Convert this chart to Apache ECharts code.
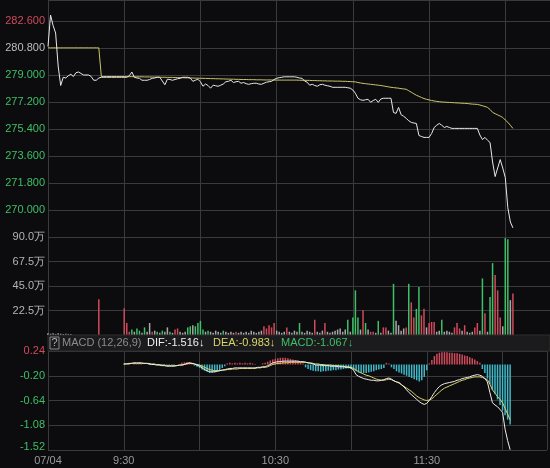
<!DOCTYPE html>
<html>
<head>
<meta charset="utf-8">
<script src="https://cdn.jsdelivr.net/npm/echarts@6/dist/echarts.min.js"></script>
<style>
html,body{margin:0;padding:0;background:#0c0c0e;}
#c{width:550px;height:468px;}
</style>
</head>
<body>
<div id="c"></div>
<script>
// ---- data (one value per minute, index 0 = 09:00) ----
const timeTicks = {0:'07/04', 30:'9:30', 90:'10:30', 150:'11:30'};
const priceTicks = [282.6, 280.8, 279.0, 277.2, 275.4, 273.6, 271.8, 270.0];
const volTicks = [90, 67.5, 45, 22.5];
const macdTicks = [0.24, -0.20, -0.64, -1.08, -1.52];

const price = [
280.90,283.00,282.30,281.80,279.60,278.30,278.85,278.80,278.95,279.05,
278.90,279.15,279.20,279.10,279.00,279.00,279.00,278.90,278.65,278.65,
278.80,278.85,278.85,278.85,278.85,278.85,278.85,278.85,278.85,278.85,
278.85,278.85,278.95,279.20,278.85,278.80,278.78,278.65,278.65,278.65,
278.70,278.78,278.80,278.85,278.85,278.60,278.35,278.72,278.70,278.65,
278.70,278.75,278.78,278.85,278.85,278.85,278.80,278.58,278.65,278.72,
278.55,278.25,278.40,278.30,278.12,278.32,278.28,278.25,278.32,278.40,
278.55,278.58,278.65,278.50,278.55,278.58,278.45,278.50,278.42,278.38,
278.42,278.45,278.45,278.40,278.38,278.45,278.52,278.55,278.58,278.70,
278.78,278.82,278.85,278.88,278.88,278.88,278.88,278.88,278.85,278.80,
278.78,278.60,278.52,278.32,278.38,278.30,278.25,278.35,278.38,278.32,
278.28,278.25,278.18,278.18,278.18,278.18,278.18,278.18,278.15,278.12,
278.00,277.78,277.45,277.35,277.31,277.35,277.38,277.18,277.30,277.38,
277.18,277.40,277.45,277.45,277.45,277.45,276.50,276.44,276.84,276.35,
276.25,276.11,275.95,275.84,275.80,275.77,274.97,274.90,274.84,274.84,
274.84,275.10,275.50,275.65,275.77,275.65,275.50,275.57,275.50,275.44,
275.44,275.44,275.44,275.44,275.44,275.44,275.44,275.44,275.44,275.44,
275.00,274.70,274.84,274.65,274.50,273.20,272.23,272.80,273.36,272.80,
272.16,270.15,269.20,268.81
];

const avgPrice = [
280.81,280.81,280.81,280.81,280.81,280.81,280.81,280.81,280.81,280.81,
280.81,280.81,280.81,280.81,280.81,280.81,280.81,280.81,280.81,280.81,
280.81,278.90,278.90,278.90,278.90,278.90,278.90,278.90,278.90,278.90,
278.90,278.89,278.89,278.89,278.88,278.88,278.88,278.88,278.87,278.87,
278.87,278.86,278.86,278.86,278.85,278.85,278.85,278.84,278.84,278.84,
278.83,278.83,278.82,278.82,278.81,278.81,278.80,278.80,278.79,278.79,
278.78,278.78,278.77,278.77,278.76,278.76,278.75,278.75,278.74,278.74,
278.73,278.73,278.72,278.72,278.71,278.71,278.70,278.70,278.70,278.69,
278.69,278.69,278.68,278.68,278.68,278.67,278.67,278.67,278.67,278.66,
278.66,278.66,278.66,278.66,278.66,278.66,278.66,278.66,278.66,278.65,
278.65,278.65,278.64,278.64,278.63,278.63,278.62,278.62,278.61,278.61,
278.60,278.60,278.60,278.59,278.59,278.59,278.58,278.58,278.57,278.56,
278.55,278.54,278.50,278.47,278.44,278.42,278.40,278.38,278.36,278.34,
278.32,278.30,278.27,278.24,278.21,278.18,278.16,278.14,278.12,278.09,
278.07,278.05,277.95,277.85,277.75,277.65,277.58,277.50,277.43,277.38,
277.34,277.30,277.27,277.24,277.22,277.20,277.19,277.18,277.17,277.16,
277.15,277.14,277.13,277.12,277.11,277.10,277.08,277.06,277.05,277.04,
277.00,276.95,276.90,276.84,276.70,276.51,276.42,276.34,276.26,276.17,
276.00,275.85,275.65,275.44
];

// volume in 万
const volume = [
1.5,1.2,1.5,1.0,1.5,1.2,1.0,1.2,1.0,1.0,
0,0,0,0,0,0,0,0,0,0,
32.8,0,0,0,0,0,0,0,0,0,
24.6,11,3,5,3,6,4,2,7,3,
11,3,4,3,2,4,3,7,3,2,
5,6,3,2,3,7,8,9,8,11,
13,5,3,4,3,2,4,3,2,4,
3,2,3,2,3,2,3,2,3,2,
4,3,2,3,4,8,6,9,7,11,
4,3,2,3,7,3,2,4,3,11,
3,2,4,3,2,14,3,2,4,11,
3,2,3,4,5,6,3,5,14,3,
16,41,16,5,23,11,5,3,3,2,
13,2,7,7,4,2,47,13,9,4,
6,7,47,30,16,24,44,18,24,7,
11,12,12,3,4,14,3,4,3,2,
7,11,6,4,9,3,2,3,7,11,
4,52,20,3,35,66,55,41,16,8,
89,88,32,38
];
// r = up (red), g = down (green), w = flat (grey)
const volDir = (
'wwwwwwwwww'+'wwwwwwwwww'+'rwwwwwwwww'+
'rrrgwggwgw'+'wrwgwgwwgw'+'rrwwwggwgg'+
'ggwgwwwwwg'+'wwwwrwwwww'+'wwwwwrrrrr'+
'wwwwrwwwwg'+'wwwwwrwwwr'+'wwwwwwwwgw'+
'gggwrgwrrw'+'gwrrwwgwww'+'wrgrrggrrw'+
'rrrwwgwwww'+'rrrwrwwwrr'+'wgrwggrrrw'+
'ggwr').split('');

const macdStart = 30;
const dif = [
0.01,0.01,0.02,0.02,0.03,0.03,0.03,0.03,0.02,0.02,
0.01,0.00,0.00,-0.01,-0.01,-0.02,-0.02,-0.03,-0.03,-0.03,
-0.03,-0.02,-0.01,-0.01,0.00,0.02,0.03,0.02,0.01,-0.01,
-0.03,-0.06,-0.09,-0.11,-0.13,-0.13,-0.13,-0.12,-0.11,-0.10,
-0.09,-0.08,-0.07,-0.07,-0.06,-0.06,-0.06,-0.06,-0.06,-0.06,
-0.06,-0.06,-0.06,-0.05,-0.05,-0.04,-0.04,-0.02,0.00,0.03,
0.04,0.05,0.05,0.06,0.06,0.06,0.06,0.06,0.06,0.06,
0.05,0.05,0.04,0.03,0.02,0.01,-0.01,-0.01,-0.01,-0.02,
-0.02,-0.02,-0.03,-0.03,-0.03,-0.04,-0.04,-0.04,-0.05,-0.05,
-0.06,-0.10,-0.18,-0.21,-0.23,-0.25,-0.26,-0.27,-0.28,-0.28,
-0.29,-0.29,-0.28,-0.27,-0.25,-0.24,-0.26,-0.29,-0.31,-0.32,
-0.36,-0.40,-0.45,-0.50,-0.54,-0.58,-0.62,-0.66,-0.69,-0.71,
-0.69,-0.64,-0.57,-0.50,-0.44,-0.39,-0.36,-0.34,-0.33,-0.32,
-0.31,-0.30,-0.28,-0.27,-0.25,-0.24,-0.23,-0.22,-0.20,-0.19,
-0.18,-0.19,-0.21,-0.25,-0.31,-0.50,-0.68,-0.72,-0.75,-0.80,
-0.85,-1.15,-1.35,-1.516
];
const dea = [
0.01,0.01,0.01,0.02,0.02,0.02,0.02,0.02,0.02,0.02,
0.02,0.01,0.01,0.00,0.00,-0.01,-0.01,-0.02,-0.02,-0.02,
-0.02,-0.02,-0.01,-0.01,0.00,0.01,0.02,0.02,0.01,0.00,
-0.01,-0.03,-0.05,-0.07,-0.09,-0.10,-0.11,-0.11,-0.11,-0.10,
-0.10,-0.09,-0.09,-0.08,-0.08,-0.08,-0.07,-0.07,-0.07,-0.07,
-0.07,-0.07,-0.07,-0.06,-0.06,-0.05,-0.05,-0.04,-0.02,0.00,
0.01,0.02,0.02,0.03,0.03,0.03,0.04,0.04,0.04,0.04,
0.04,0.04,0.04,0.03,0.03,0.02,0.01,0.01,0.00,0.00,
-0.01,-0.01,-0.01,-0.02,-0.02,-0.02,-0.03,-0.03,-0.04,-0.04,
-0.05,-0.07,-0.10,-0.13,-0.15,-0.17,-0.19,-0.20,-0.22,-0.24,
-0.26,-0.27,-0.28,-0.28,-0.27,-0.26,-0.27,-0.29,-0.31,-0.33,
-0.36,-0.39,-0.42,-0.45,-0.48,-0.52,-0.56,-0.59,-0.61,-0.63,
-0.64,-0.63,-0.61,-0.57,-0.53,-0.49,-0.45,-0.42,-0.40,-0.38,
-0.36,-0.34,-0.32,-0.30,-0.28,-0.27,-0.25,-0.24,-0.23,-0.22,
-0.22,-0.22,-0.23,-0.25,-0.27,-0.35,-0.45,-0.51,-0.57,-0.62,
-0.68,-0.78,-0.88,-0.983
];
const macdHist = [
0.01,0.00,0.01,0.00,0.01,0.01,0.01,0.01,0.00,0.00,
-0.01,-0.01,-0.01,-0.01,-0.01,-0.01,-0.01,-0.01,-0.01,-0.01,
-0.01,0.00,0.00,0.03,0.04,0.04,0.04,0.03,-0.02,-0.04,
-0.06,-0.09,-0.11,-0.13,-0.15,-0.15,-0.14,-0.12,-0.10,-0.06,
-0.03,0.02,0.03,0.02,0.03,0.02,0.03,0.02,0.03,0.02,
0.03,0.02,0.01,0.00,0.00,0.02,0.03,0.05,0.07,0.09,
0.10,0.11,0.12,0.12,0.12,0.11,0.10,0.09,0.08,0.06,
0.04,0.02,-0.05,-0.08,-0.10,-0.11,-0.12,-0.12,-0.13,-0.12,
-0.12,-0.11,-0.11,-0.10,-0.10,-0.09,-0.09,-0.08,-0.07,-0.07,
-0.08,-0.10,-0.12,-0.14,-0.15,-0.15,-0.15,-0.14,-0.13,-0.12,
-0.10,-0.09,-0.08,-0.06,0.03,0.02,-0.05,-0.08,-0.12,-0.14,
-0.16,-0.18,-0.20,-0.22,-0.24,-0.26,-0.28,-0.30,-0.28,-0.22,
-0.10,0.02,0.08,0.15,0.19,0.21,0.22,0.22,0.22,0.21,
0.21,0.20,0.20,0.19,0.18,0.16,0.15,0.13,0.11,0.09,
0.06,0.03,-0.08,-0.15,-0.25,-0.35,-0.45,-0.52,-0.62,-0.72,
-0.82,-0.90,-0.98,-1.067
];

// ---- chart ----
const BG = '#0c0c0e';
const GRID_LINE = '#3a3a3a';
const RED = '#d04a5c';
const GREEN = '#3fbf68';
const CYAN = '#3fb9c8';
const dirColor = {r: RED, g: GREEN, w: '#a9a9a9'};
const XMAX = 197.6;

const chart = echarts.init(document.getElementById('c'), null, {renderer: 'canvas'});

function xAxisDef(gi, showLabel) {
  return {
    type: 'value', gridIndex: gi, min: 0, max: XMAX, interval: 30,
    axisLine: {show: false}, axisTick: {show: false},
    splitLine: {show: true, lineStyle: {color: GRID_LINE, width: 1}},
    axisLabel: showLabel ? {
      show: true, color: '#9a9a9a', fontSize: 11, fontFamily: 'Liberation Sans, Arial', margin: 5,
      formatter: v => timeTicks[Math.round(v)] !== undefined && Math.abs(v - Math.round(v)) < 1e-6 ? timeTicks[Math.round(v)] : ''
    } : {show: false}
  };
}

function near(v, list) { return list.some(t => Math.abs(t - v) < 1e-6); }

const option = {
  backgroundColor: BG,
  animation: false,
  grid: [
    {left: 48, right: 0, top: 0, height: 237},
    {left: 48, right: 0, top: 237, height: 98},
    {left: 48, right: 0, top: 351, height: 99}
  ],
  xAxis: [xAxisDef(0, false), xAxisDef(1, false), xAxisDef(2, true)],
  yAxis: [
    {
      type: 'value', gridIndex: 0, min: 268.2, max: 284.0, interval: 1.8,
      axisLine: {show: false}, axisTick: {show: false},
      splitLine: {lineStyle: {color: GRID_LINE}},
      axisLabel: {
        showMinLabel: false, showMaxLabel: false, margin: 3, fontSize: 11,
        fontFamily: 'Liberation Sans, Arial',
        formatter: v => {
          if (!near(v, priceTicks)) return '';
          const s = v.toFixed(3);
          if (Math.abs(v - 282.6) < 1e-6) return '{r|' + s + '}';
          if (Math.abs(v - 280.8) < 1e-6) return '{w|' + s + '}';
          return '{g|' + s + '}';
        },
        rich: {r: {color: RED, fontSize: 11}, w: {color: '#bdbdbd', fontSize: 11}, g: {color: GREEN, fontSize: 11}}
      }
    },
    {
      type: 'value', gridIndex: 1, min: 0, max: 90, interval: 22.5,
      axisLine: {show: false}, axisTick: {show: false},
      splitLine: {lineStyle: {color: GRID_LINE}},
      axisLabel: {
        showMinLabel: false, margin: 3, fontSize: 11, color: '#b4b4b4',
        fontFamily: 'Liberation Sans, Arial',
        formatter: v => near(v, volTicks) ? v.toFixed(1) + '万' : ''
      }
    },
    {
      type: 'value', gridIndex: 2, min: -1.52, max: 0.24, interval: 0.44,
      axisLine: {show: false}, axisTick: {show: false},
      splitLine: {lineStyle: {color: GRID_LINE}},
      axisLabel: {
        margin: 3, fontSize: 11, fontFamily: 'Liberation Sans, Arial',
        formatter: v => {
          if (!near(v, macdTicks)) return '';
          const s = v.toFixed(2);
          if (v > 0) return '{r|' + s + '}';
          if (Math.abs(v + 1.52) < 1e-6) return '{gb|' + s + '}';
          return '{g|' + s + '}';
        },
        rich: {r: {color: RED, fontSize: 11}, g: {color: GREEN, fontSize: 11},
               gb: {color: GREEN, fontSize: 11, padding: [0, 0, 6, 0]}}
      }
    }
  ],
  series: [
    {
      type: 'line', xAxisIndex: 0, yAxisIndex: 0, symbol: 'none',
      data: avgPrice.map((v, i) => [i, v]),
      lineStyle: {color: '#c9c66a', width: 1}, z: 2
    },
    {
      type: 'line', xAxisIndex: 0, yAxisIndex: 0, symbol: 'none',
      data: price.map((v, i) => [i, v]),
      lineStyle: {color: '#e8e8e8', width: 1}, z: 3
    },
    {
      type: 'bar', xAxisIndex: 1, yAxisIndex: 1, barWidth: 1.5,
      data: volume.map((v, i) => ({value: [i, v], itemStyle: {color: dirColor[volDir[i]]}}))
    },
    {
      type: 'bar', xAxisIndex: 2, yAxisIndex: 2, barWidth: 1.5,
      data: macdHist.map((v, i) => ({value: [i + macdStart, v], itemStyle: {color: v >= 0 ? RED : CYAN}}))
    },
    {
      type: 'line', xAxisIndex: 2, yAxisIndex: 2, symbol: 'none',
      data: dea.map((v, i) => [i + macdStart, v]),
      lineStyle: {color: '#d9d36a', width: 1}, z: 3
    },
    {
      type: 'line', xAxisIndex: 2, yAxisIndex: 2, symbol: 'none',
      data: dif.map((v, i) => [i + macdStart, v]),
      lineStyle: {color: '#ededed', width: 1}, z: 4
    }
  ],
  graphic: [
    {type: 'rect', shape: {x: 48, y: 335, width: 502, height: 16}, style: {fill: '#1b1b1d', stroke: '#2c2c2c', lineWidth: 1}, z: 10},
    {type: 'rect', shape: {x: 50, y: 337, width: 9, height: 12}, style: {fill: 'none', stroke: '#8a8a8a', lineWidth: 1}, z: 11},
    {type: 'text', x: 51.5, y: 343, style: {text: '?', fill: '#b0b0b0', font: '11px Liberation Sans, Arial', verticalAlign: 'middle'}, z: 11},
    {type: 'text', x: 62, y: 343, style: {text: 'MACD (12,26,9)', fill: '#8c8c8c', font: '11px Liberation Sans, Arial', verticalAlign: 'middle'}, z: 11},
    {type: 'text', x: 147, y: 343, style: {text: 'DIF:-1.516↓', fill: '#f0f0f0', font: '11px Liberation Sans, Arial', verticalAlign: 'middle'}, z: 11},
    {type: 'text', x: 213, y: 343, style: {text: 'DEA:-0.983↓', fill: '#dcd66a', font: '11px Liberation Sans, Arial', verticalAlign: 'middle'}, z: 11},
    {type: 'text', x: 281, y: 343, style: {text: 'MACD:-1.067↓', fill: GREEN, font: '11px Liberation Sans, Arial', verticalAlign: 'middle'}, z: 11}
  ]
};
chart.setOption(option);
</script>
</body>
</html>
